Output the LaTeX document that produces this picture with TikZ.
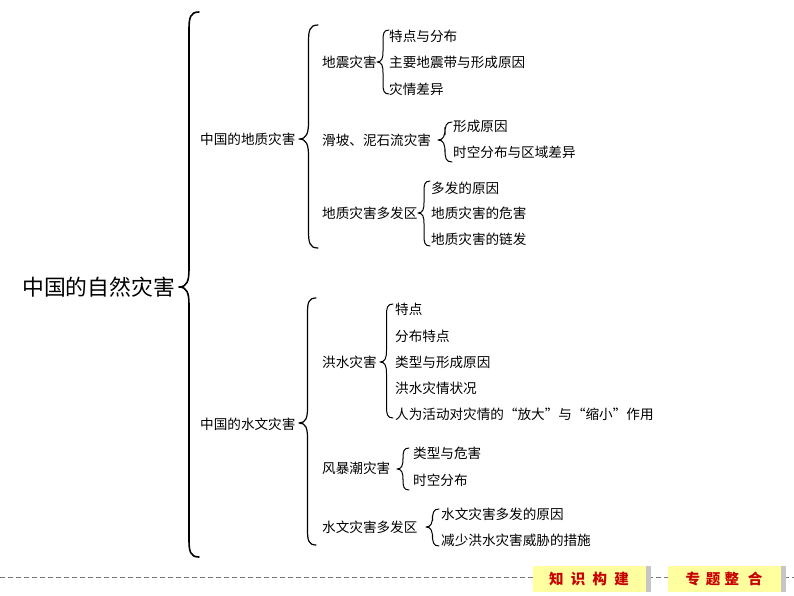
\documentclass[tikz,border=0pt]{standalone}
\usepackage{fontspec}
\setmainfont{Noto Sans CJK SC}
\definecolor{btnyellow}{RGB}{255,255,160}
\definecolor{btnred}{RGB}{200,0,0}
\definecolor{dashgray}{RGB}{120,120,120}
\newcommand\cbr[6]{% right x, top y, tip y, bottom y, width, line width
  \draw[line width=#6,line cap=round,line join=round]
    (#1,#2) .. controls ({#1-#5*0.45},{#2}) and ({#1-#5/2},{#2+#5*0.3}) .. ({#1-#5/2},{#2+#5*0.9})
    -- ({#1-#5/2},{#3-#5*0.9}) .. controls ({#1-#5/2},{#3-#5*0.3}) and ({#1-#5*0.6},{#3}) .. ({#1-#5},#3)
    .. controls ({#1-#5*0.6},{#3}) and ({#1-#5/2},{#3+#5*0.3}) .. ({#1-#5/2},{#3+#5*0.9})
    -- ({#1-#5/2},{#4-#5*0.9}) .. controls ({#1-#5/2},{#4-#5*0.3}) and ({#1-#5*0.45},{#4}) .. (#1,#4);}
\tikzset{
  rootlbl/.style={anchor=west,inner sep=0pt,font=\fontsize{21.8pt}{24pt}\selectfont},
  lbl/.style={anchor=west,inner sep=0pt,font=\fontsize{13.6pt}{16pt}\selectfont},
  btn/.style={fill=btnyellow,draw=none,minimum width=113pt,minimum height=26pt,inner sep=0pt,
    text=btnred,font=\fontsize{14.5pt}{16pt}\selectfont\bfseries},
}
\begin{document}
\begin{tikzpicture}[x=1pt,y=-1pt]
\useasboundingbox (0,0) rectangle (794,596);
% root
\node[rootlbl] (root) at (22,287) {中国的自然灾害};
\cbr{199}{12}{287}{557}{20}{1.6pt}
% level 1
\node[lbl] (geo) at (200,139) {中国的地质灾害};
\node[lbl] (hyd) at (200,424) {中国的水文灾害};
\cbr{318}{25}{139}{248}{19}{1.2pt}
\cbr{316}{298}{423}{545}{17}{1.2pt}
% geology
\node[lbl] (eq) at (322,62) {地震灾害};
\node[lbl] (ls) at (322,140) {滑坡、泥石流灾害};
\node[lbl] (gz) at (322,213) {地质灾害多发区};
\cbr{389}{30}{62}{94}{12}{1pt}
\node[lbl] (eq1) at (389,36) {特点与分布};
\node[lbl] (eq2) at (389,62) {主要地震带与形成原因};
\node[lbl] (eq3) at (389,89) {灾情差异};
\cbr{452}{122}{140}{162}{14}{1pt}
\node[lbl] (ls1) at (453,126) {形成原因};
\node[lbl] (ls2) at (453,152) {时空分布与区域差异};
\cbr{430}{181}{213}{246}{12}{1pt}
\node[lbl] (gz1) at (431,188) {多发的原因};
\node[lbl] (gz2) at (431,213) {地质灾害的危害};
\node[lbl] (gz3) at (431,239) {地质灾害的链发};
% hydrology
\node[lbl] (fl) at (322,362) {洪水灾害};
\node[lbl] (st) at (322,468) {风暴潮灾害};
\node[lbl] (hz) at (322,527) {水文灾害多发区};
\cbr{393}{304}{362}{418}{13}{1pt}
\node[lbl] (fl1) at (395,309) {特点};
\node[lbl] (fl2) at (395,336) {分布特点};
\node[lbl] (fl3) at (395,362) {类型与形成原因};
\node[lbl] (fl4) at (395,388) {洪水灾情状况};
\node[lbl] (fl5) at (395,414) {人为活动对灾情的“放大”与“缩小”作用};
\cbr{409}{448}{469}{490}{12}{1pt}
\node[lbl] (st1) at (413,453) {类型与危害};
\node[lbl] (st2) at (413,480) {时空分布};
\cbr{439}{509}{527}{546}{13}{1pt}
\node[lbl] (hz1) at (441,514) {水文灾害多发的原因};
\node[lbl] (hz2) at (441,540) {减少洪水灾害威胁的措施};
% bottom bar
\draw[dashgray,line width=0.8pt,dash pattern=on 5pt off 3pt] (0,577) -- (794,577);
\fill[gray!45] (645,566) rectangle (651,592);
\fill[gray!45] (780,566) rectangle (786,592);
\node[btn] (b1) at (589,579) {知\hspace{0.5em}识\hspace{0.5em}构\hspace{0.5em}建};
\node[btn] (b2) at (724,579) {专\hspace{0.4em}题\hspace{0.3em}整\hspace{0.6em}合};
\end{tikzpicture}
\end{document}
